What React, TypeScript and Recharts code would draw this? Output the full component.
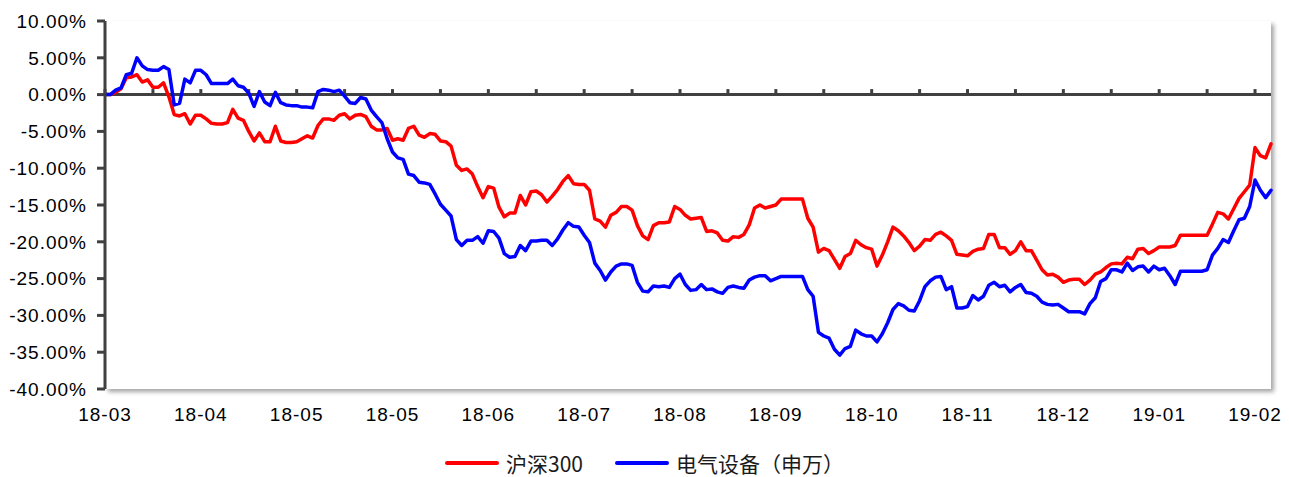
import React from "react";
import {
  LineChart,
  Line,
  XAxis,
  YAxis,
  ReferenceLine,
  ReferenceArea,
} from "recharts";

// 沪深300 vs 电气设备（申万）: cumulative return, 2018-03 .. 2019-02, daily points

const HS300 = [
  0, 0, 0.3, 0.8, 2.3, 2.4, 2.7, 1.7, 2.0, 1.0,
  1.0, 1.6, -0.3, -2.7, -2.9, -2.6, -4.0, -2.8, -2.8, -3.3,
  -3.9, -4.0, -4.0, -3.8, -2.0, -3.2, -3.5, -5.0, -6.3, -5.2,
  -6.4, -6.4, -4.3, -6.3, -6.5, -6.5, -6.4, -6.0, -5.6, -5.9,
  -4.2, -3.3, -3.3, -3.5, -2.8, -2.6, -3.3, -2.8, -2.7, -3.0,
  -4.3, -4.8, -4.8, -4.6, -6.2, -6.0, -6.2, -4.6, -4.3, -5.5,
  -5.8, -5.3, -5.4, -6.3, -6.4, -7.0, -9.6, -10.3, -10.1, -10.8,
  -12.5, -14.0, -12.5, -12.7, -15.3, -16.6, -16.1, -16.1, -13.7, -15.0,
  -13.2, -13.1, -13.6, -14.6, -13.8, -12.9, -11.8, -11.0, -12.1, -12.2,
  -12.2, -13.0, -16.9, -17.2, -18.0, -16.4, -16.0, -15.2, -15.2, -15.7,
  -17.8, -19.2, -19.7, -17.8, -17.4, -17.4, -17.3, -15.2, -15.6, -16.4,
  -16.9, -16.8, -16.7, -18.6, -18.5, -18.8, -19.8, -19.9, -19.3, -19.4,
  -19.0, -17.7, -15.4, -15.0, -15.4, -15.2, -15.0, -14.2, -14.2, -14.2,
  -14.2, -14.2, -16.8, -18.0, -21.4, -20.9, -21.2, -22.4, -23.6, -22.0,
  -21.6, -19.8, -20.4, -20.8, -21.0, -23.3, -21.8, -20.0, -18.0, -18.5,
  -19.2, -20.1, -21.2, -20.6, -19.7, -19.8, -19.0, -18.7, -19.2, -19.8,
  -21.7, -21.8, -21.9, -21.3, -21.0, -20.9, -19.0, -19.0, -20.8, -20.8,
  -21.7, -21.2, -20.0, -21.2, -21.2, -22.5, -23.8, -24.5, -24.4, -24.8,
  -25.5, -25.2, -25.1, -25.1, -25.8, -25.2, -24.4, -24.1, -23.5, -23.0,
  -22.9, -23.0, -22.1, -22.3, -21.0, -20.9, -21.6, -21.2, -20.7, -20.7,
  -20.7, -20.5, -19.1, -19.1, -19.1, -19.1, -19.1, -19.1, -17.6, -16.0,
  -16.2, -16.9, -15.5, -14.1, -13.2, -12.3, -7.2, -8.3, -8.6, -6.7,
];

const ELEC = [
  0, 0, 0.6, 0.9, 2.7, 2.9, 5.0, 3.9, 3.4, 3.3,
  3.3, 3.8, 3.4, -1.4, -1.2, 2.1, 1.6, 3.3, 3.3, 2.7,
  1.5, 1.5, 1.5, 1.5, 2.1, 1.2, 1.0, 0.2, -1.6, 0.4,
  -1.0, -1.5, 0.3, -1.1, -1.4, -1.5, -1.5, -1.7, -1.7, -1.8,
  0.4, 0.7, 0.6, 0.4, 0.6, -0.2, -1.1, -1.2, -0.4, -0.6,
  -2.1, -3.0, -3.8, -6.0, -7.8, -8.6, -8.8, -10.8, -11.0, -11.9,
  -12.0, -12.2, -13.5, -14.9, -15.7, -16.5, -19.7, -20.5, -19.8, -19.8,
  -19.3, -20.2, -18.5, -18.6, -19.5, -21.6, -22.1, -22.0, -20.5, -21.2,
  -19.9, -19.9, -19.8, -19.8, -20.5, -19.6, -18.4, -17.4, -17.9, -18.0,
  -19.1, -20.1, -22.9, -23.9, -25.2, -24.1, -23.3, -23.0, -23.0, -23.2,
  -25.5, -26.7, -26.8, -26.0, -26.1, -26.0, -26.2, -25.0, -24.4, -25.8,
  -26.6, -26.5, -25.8, -26.5, -26.4, -26.8, -27.0, -26.2, -26.0, -26.2,
  -26.3, -25.2, -24.8, -24.6, -24.6, -25.3, -25.0, -24.7, -24.7, -24.7,
  -24.7, -24.7, -26.5, -27.4, -32.3, -32.8, -33.1, -34.6, -35.4, -34.5,
  -34.2, -32.0, -32.5, -32.8, -32.8, -33.6, -32.5, -31.0, -29.2, -28.4,
  -28.7, -29.3, -29.4, -28.0, -26.1, -25.3, -24.8, -24.7, -26.5, -26.1,
  -29.0, -29.0, -28.8, -27.3, -27.9, -27.4, -25.9, -25.5, -26.1, -25.9,
  -26.8, -26.2, -25.8, -26.9, -27.0, -27.4, -28.2, -28.5, -28.6, -28.5,
  -29.0, -29.5, -29.5, -29.5, -29.8, -28.4, -27.6, -25.4, -25.0, -23.8,
  -23.8, -24.1, -22.9, -23.9, -23.4, -23.3, -24.1, -23.3, -23.8, -23.6,
  -24.6, -25.8, -24.0, -24.0, -24.0, -24.0, -24.0, -23.8, -21.8, -20.9,
  -19.7, -20.1, -18.5, -17.0, -16.8, -15.2, -11.6, -13.0, -14.0, -13.0,
];

const TICK_LABELS = [
  "18-03", "18-04", "18-05", "18-05", "18-06", "18-07", "18-08",
  "18-09", "18-10", "18-11", "18-12", "19-01", "19-02",
];
const Y_TICKS = [-40, -35, -30, -25, -20, -15, -10, -5, 0, 5, 10];

const SERIES = [
  { key: "hs300", name: "沪深300", color: "#FF0000" },
  { key: "elec", name: "电气设备（申万）", color: "#0000FF" },
];

const LABEL_STEP = 18; // points between date labels
const MINOR_STEP = 9;  // points between tick marks on the zero line

const AXIS = "#404040";
const FONT = "'Liberation Sans', Arial, sans-serif";

const data = HS300.map((v, i) => ({ i, hs300: v, elec: ELEC[i] }));
const labelIdx = TICK_LABELS.map((_, k) => k * LABEL_STEP);
const minorIdx = Array.from(
  { length: Math.floor((HS300.length - 1) / MINOR_STEP) + 1 },
  (_, k) => k * MINOR_STEP
);

export default function App() {
  return (
    <div
      style={{
        position: "absolute",
        left: 0,
        top: 0,
        width: 1289,
        height: 477,
        background: "#fff",
        overflow: "hidden",
      }}
    >
      <LineChart
        width={1289}
        height={477}
        data={data}
        margin={{ top: 21, right: 18, bottom: 58, left: 0 }}
      >
        <ReferenceArea
          x1={0}
          x2={HS300.length - 1}
          y1={-40}
          y2={10}
          fill="#fff"
          fillOpacity={1}
          stroke="none"
          style={{ filter: "drop-shadow(3px 3px 2px rgba(0,0,0,0.35))" }}
        />
        <XAxis
          dataKey="i"
          type="number"
          domain={[0, HS300.length - 1]}
          ticks={labelIdx}
          tickFormatter={(v: number) => TICK_LABELS[labelIdx.indexOf(v)] ?? ""}
          axisLine={false}
          tickLine={false}
          tickMargin={13}
          height={30}
          interval={0}
          tick={{ fill: "#000", fontSize: 19, fontFamily: FONT, letterSpacing: 1 }}
        />
        <YAxis
          domain={[-40, 10]}
          ticks={Y_TICKS}
          width={105}
          interval={0}
          tickFormatter={(v: number) => `${v.toFixed(2)}%`}
          axisLine={{ stroke: AXIS, strokeWidth: 3 }}
          tickLine={{ stroke: AXIS, strokeWidth: 3 }}
          tickSize={8}
          tickMargin={10}
          tick={{ fill: "#000", fontSize: 19, fontFamily: FONT, letterSpacing: 1 }}
        />
        <ReferenceLine y={0} stroke={AXIS} strokeWidth={3} />
        {minorIdx.map((t) => (
          <ReferenceLine
            key={t}
            segment={[
              { x: t, y: 0 },
              { x: t, y: 0.75 },
            ]}
            stroke={AXIS}
            strokeWidth={3}
          />
        ))}
        {SERIES.map((s) => (
          <Line
            key={s.key}
            dataKey={s.key}
            name={s.name}
            type="linear"
            stroke={s.color}
            strokeWidth={3.5}
            strokeLinejoin="round"
            strokeLinecap="round"
            dot={false}
            activeDot={false}
            isAnimationActive={false}
          />
        ))}
      </LineChart>
      <div
        style={{
          position: "absolute",
          left: 0,
          top: 448,
          width: 1289,
          display: "flex",
          justifyContent: "center",
          alignItems: "center",
          gap: 32,
          fontFamily: "'Noto Sans CJK SC', sans-serif",
          fontSize: 21,
          lineHeight: "30px",
          color: "#1a1a1a",
        }}
      >
        {SERIES.map((s) => (
          <div key={s.key} style={{ display: "flex", alignItems: "center" }}>
            <span
              style={{
                display: "inline-block",
                width: 54,
                height: 4,
                background: s.color,
                borderRadius: 2,
                marginRight: 7,
              }}
            />
            <span>{s.name}</span>
          </div>
        ))}
      </div>
    </div>
  );
}
